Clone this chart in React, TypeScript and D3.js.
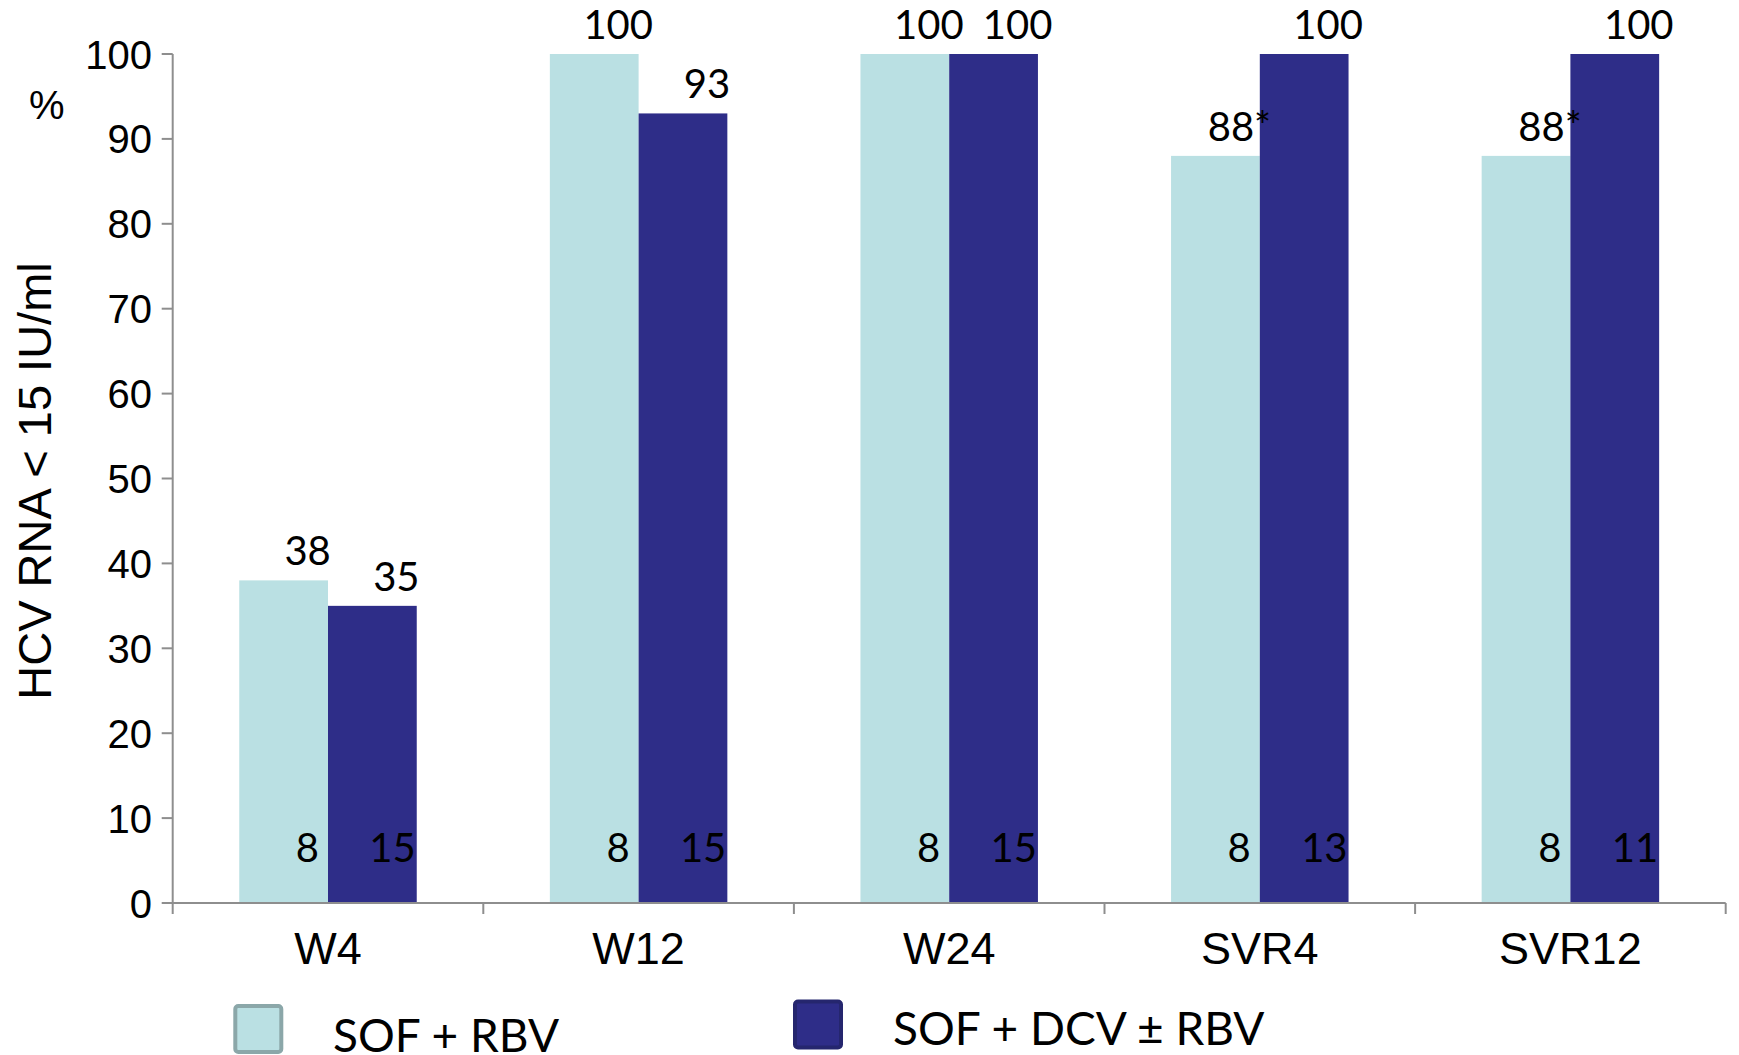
import React from "react";
import * as d3 from "d3";

// Time points on the x axis
const categories = ["W4", "W12", "W24", "SVR4", "SVR12"];
// Treatment arms
const seriesNames = ["SOF + RBV", "SOF + DCV ± RBV"];
// % of patients with HCV RNA < 15 IU/ml
const sofRbvValues = [38, 100, 100, 88, 88];
const sofDcvRbvValues = [35, 93, 100, 100, 100];
// Footnote marks appended to the SOF + RBV value labels
const sofRbvMarks = ["", "", "", "*", "*"];
// Number of patients evaluated at each time point
const sofRbvN = [8, 8, 8, 8, 8];
const sofDcvRbvN = [15, 15, 15, 13, 11];
// Y axis ticks
const yTicks = [0, 10, 20, 30, 40, 50, 60, 70, 80, 90, 100];

const W = 1739;
const H = 1055;
const fills = ["#bae0e3", "#2e2d88"];
const legendStrokes = ["#8ba7a9", "#25266e"];
const axisColor = "#8e8e8e";
const sansAxis = "'Liberation Sans', Arial, sans-serif";
const sansLabel = "Lato, 'Open Sans', sans-serif";

export default function App() {
  const x0 = d3.scaleBand<string>().domain(categories).range([172.7, 1725.7]).padding(0);
  const x1 = d3
    .scaleBand<string>()
    .domain(seriesNames)
    .range([0, x0.bandwidth()])
    .paddingInner(0)
    .paddingOuter(0.75);
  const y = d3.scaleLinear().domain([0, 100]).range([903, 54]);

  const series = [
    { name: seriesNames[0], values: sofRbvValues, marks: sofRbvMarks, n: sofRbvN, nGap: 9 },
    { name: seriesNames[1], values: sofDcvRbvValues, marks: categories.map(() => ""), n: sofDcvRbvN, nGap: 1 },
  ];

  const bw = x1.bandwidth();
  const xLeft = x0.range()[0];
  const xRight = x0.range()[1];
  const boundaries = [...categories.map((c) => x0(c) as number), xRight];

  const legendLayout = [
    { x: 233.3, y: 1004, textX: 333, baseline: 1052 },
    { x: 793, y: 999.5, textX: 893, baseline: 1045 },
  ];

  return (
    <div style={{ position: "absolute", left: 0, top: 0 }}>
      <svg width={W} height={H} viewBox={`0 0 ${W} ${H}`} style={{ display: "block", background: "#ffffff" }}>
        {/* bars */}
        {series.map((s, si) => (
          <g key={s.name} fill={fills[si]}>
            {categories.map((c, ci) => {
              const bx = (x0(c) as number) + (x1(s.name) as number);
              const top = y(s.values[ci]);
              return <rect key={c} x={bx} y={top} width={bw} height={y(0) - top} />;
            })}
          </g>
        ))}

        {/* value labels above bars */}
        {series.map((s) => (
          <g key={s.name + "-v"} fontFamily={sansLabel} fontSize={40} fill="#000" textAnchor="middle">
            {categories.map((c, ci) => {
              const bx = (x0(c) as number) + (x1(s.name) as number);
              return (
                <text key={c} x={bx + bw / 2 + 24} y={y(s.values[ci]) - 15}>
                  {s.values[ci] + s.marks[ci]}
                </text>
              );
            })}
          </g>
        ))}

        {/* patient counts inside bars */}
        {series.map((s) => (
          <g key={s.name + "-n"} fontFamily={sansLabel} fontSize={40} fill="#000" textAnchor="end">
            {categories.map((c, ci) => {
              const bx = (x0(c) as number) + (x1(s.name) as number);
              return (
                <text key={c} x={bx + bw - s.nGap} y={y(0) - 41}>
                  {s.n[ci]}
                </text>
              );
            })}
          </g>
        ))}

        {/* y axis */}
        <g stroke={axisColor} strokeWidth={2} fill="none">
          <line x1={xLeft} x2={xLeft} y1={y(0)} y2={y(100)} />
          {yTicks.map((t) => (
            <line key={t} x1={xLeft - 11} x2={xLeft} y1={y(t)} y2={y(t)} />
          ))}
        </g>
        <g fontFamily={sansAxis} fontSize={40} fill="#000" textAnchor="end">
          {yTicks.map((t) => (
            <text key={t} x={152} y={y(t) + 14.5}>
              {t}
            </text>
          ))}
        </g>

        {/* x axis */}
        <g stroke={axisColor} strokeWidth={2} fill="none">
          <line x1={xLeft} x2={xRight} y1={y(0)} y2={y(0)} />
          {boundaries.map((b, i) => (
            <line key={i} x1={b} x2={b} y1={y(0)} y2={y(0) + 11} />
          ))}
        </g>
        <g fontFamily={sansAxis} fontSize={45} fill="#000" textAnchor="middle">
          {categories.map((c) => (
            <text key={c} x={(x0(c) as number) + x0.bandwidth() / 2} y={964}>
              {c}
            </text>
          ))}
        </g>

        {/* axis titles */}
        <text x={46.7} y={119} fontFamily={sansAxis} fontSize={40} textAnchor="middle" fill="#000">
          %
        </text>
        <text
          transform="translate(50.5,481) rotate(-90)"
          fontFamily={sansAxis}
          fontSize={47}
          textAnchor="middle"
          fill="#000"
        >
          HCV RNA &lt; 15 IU/ml
        </text>

        {/* legend */}
        {seriesNames.map((name, i) => {
          const l = legendLayout[i];
          return (
            <g key={name}>
              <rect
                x={l.x + 2}
                y={l.y + 2}
                width={46}
                height={46}
                rx={3}
                fill={fills[i]}
                stroke={legendStrokes[i]}
                strokeWidth={4}
              />
              <text x={l.textX} y={l.baseline} fontFamily={sansLabel} fontSize={46} fill="#000">
                {name}
              </text>
            </g>
          );
        })}
      </svg>
    </div>
  );
}
